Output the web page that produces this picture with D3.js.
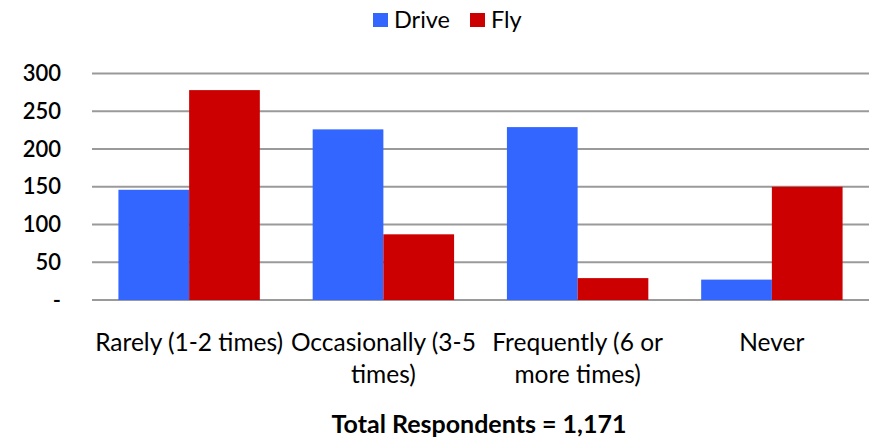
<!DOCTYPE html>
<html>
<head>
<meta charset="utf-8">
<script src="https://cdn.jsdelivr.net/npm/d3@7"></script>
<style>
  body { margin: 0; background: #fff; }
  text { font-family: Lato, "Open Sans", sans-serif; fill: #000; }
</style>
</head>
<body>
<div id="chart"></div>
<script>
// data
var categories = ["Rarely (1-2 times)", "Occasionally (3-5 times)", "Frequently (6 or more times)", "Never"];
var categoryLines = [["Rarely (1-2 times)"], ["Occasionally (3-5", "times)"], ["Frequently (6 or", "more times)"], ["Never"]];
var seriesNames = ["Drive", "Fly"];
var drive = [146, 226, 229, 27];
var fly = [278, 87, 29, 150];
var yTicks = [0, 50, 100, 150, 200, 250, 300];
var footnote = "Total Respondents = 1,171";

var W = 873, H = 441;
var colors = {Drive: "#3366ff", Fly: "#cc0000"};
var margin = {top: 73.5, left: 92, right: 4, bottom: 141};

var svg = d3.select("#chart").append("svg")
    .attr("width", W)
    .attr("height", H);

var x0 = d3.scaleBand()
    .domain(categories)
    .range([margin.left, W - margin.right])
    .paddingInner(0.272)
    .paddingOuter(0.136);

var x1 = d3.scaleBand()
    .domain(seriesNames)
    .range([0, x0.bandwidth()]);

var y = d3.scaleLinear()
    .domain([0, 300])
    .range([H - margin.bottom, margin.top]);

// gridlines
svg.append("g")
    .selectAll("line")
    .data(yTicks)
    .join("line")
    .attr("x1", margin.left)
    .attr("x2", W - margin.right)
    .attr("y1", function (d) { return y(d); })
    .attr("y2", function (d) { return y(d); })
    .style("stroke", "#9a9a9a")
    .style("stroke-width", 2);

// y axis labels
svg.append("g")
    .selectAll("text")
    .data(yTicks)
    .join("text")
    .attr("x", 61)
    .attr("y", function (d) { return y(d) + 7.5; })
    .attr("text-anchor", "end")
    .style("font-size", "22px")
    .style("font-weight", 600)
    .text(function (d) { return d === 0 ? "-" : d; });

// bars
var rows = categories.map(function (c, i) {
    return {cat: c, values: [{key: "Drive", v: drive[i]}, {key: "Fly", v: fly[i]}]};
});

svg.append("g")
    .selectAll("g")
    .data(rows)
    .join("g")
    .attr("transform", function (d) { return "translate(" + x0(d.cat) + ",0)"; })
    .selectAll("rect")
    .data(function (d) { return d.values; })
    .join("rect")
    .attr("x", function (d) { return x1(d.key); })
    .attr("width", x1.bandwidth())
    .attr("y", function (d) { return y(d.v); })
    .attr("height", function (d) { return y(0) - y(d.v); })
    .style("fill", function (d) { return colors[d.key]; });

// category labels
var lab = svg.append("g")
    .selectAll("text")
    .data(categories)
    .join("text")
    .attr("x", function (d) { return x0(d) + x0.bandwidth() / 2; })
    .attr("y", 351)
    .attr("text-anchor", "middle")
    .style("font-size", "24.5px");

lab.selectAll("tspan")
    .data(function (d, i) { return categoryLines[i]; })
    .join("tspan")
    .attr("x", function () { var c = d3.select(this.parentNode).datum(); return x0(c) + x0.bandwidth() / 2; })
    .attr("dy", function (d, i) { return i === 0 ? 0 : 32; })
    .text(function (d) { return d; });

// legend
var leg = svg.append("g").attr("transform", "translate(373,0)");
var legX = [0, 97];
seriesNames.forEach(function (s, i) {
    leg.append("rect")
        .attr("x", legX[i])
        .attr("y", 13)
        .attr("width", 15)
        .attr("height", 14)
        .style("fill", colors[s]);
    leg.append("text")
        .attr("x", legX[i] + 21)
        .attr("y", 28)
        .style("font-size", "23.5px")
        .text(s);
});

// footnote
svg.append("text")
    .attr("x", 479)
    .attr("y", 433)
    .attr("text-anchor", "middle")
    .style("font-size", "25px")
    .style("font-weight", 700)
    .text(footnote);
</script>
</body>
</html>
